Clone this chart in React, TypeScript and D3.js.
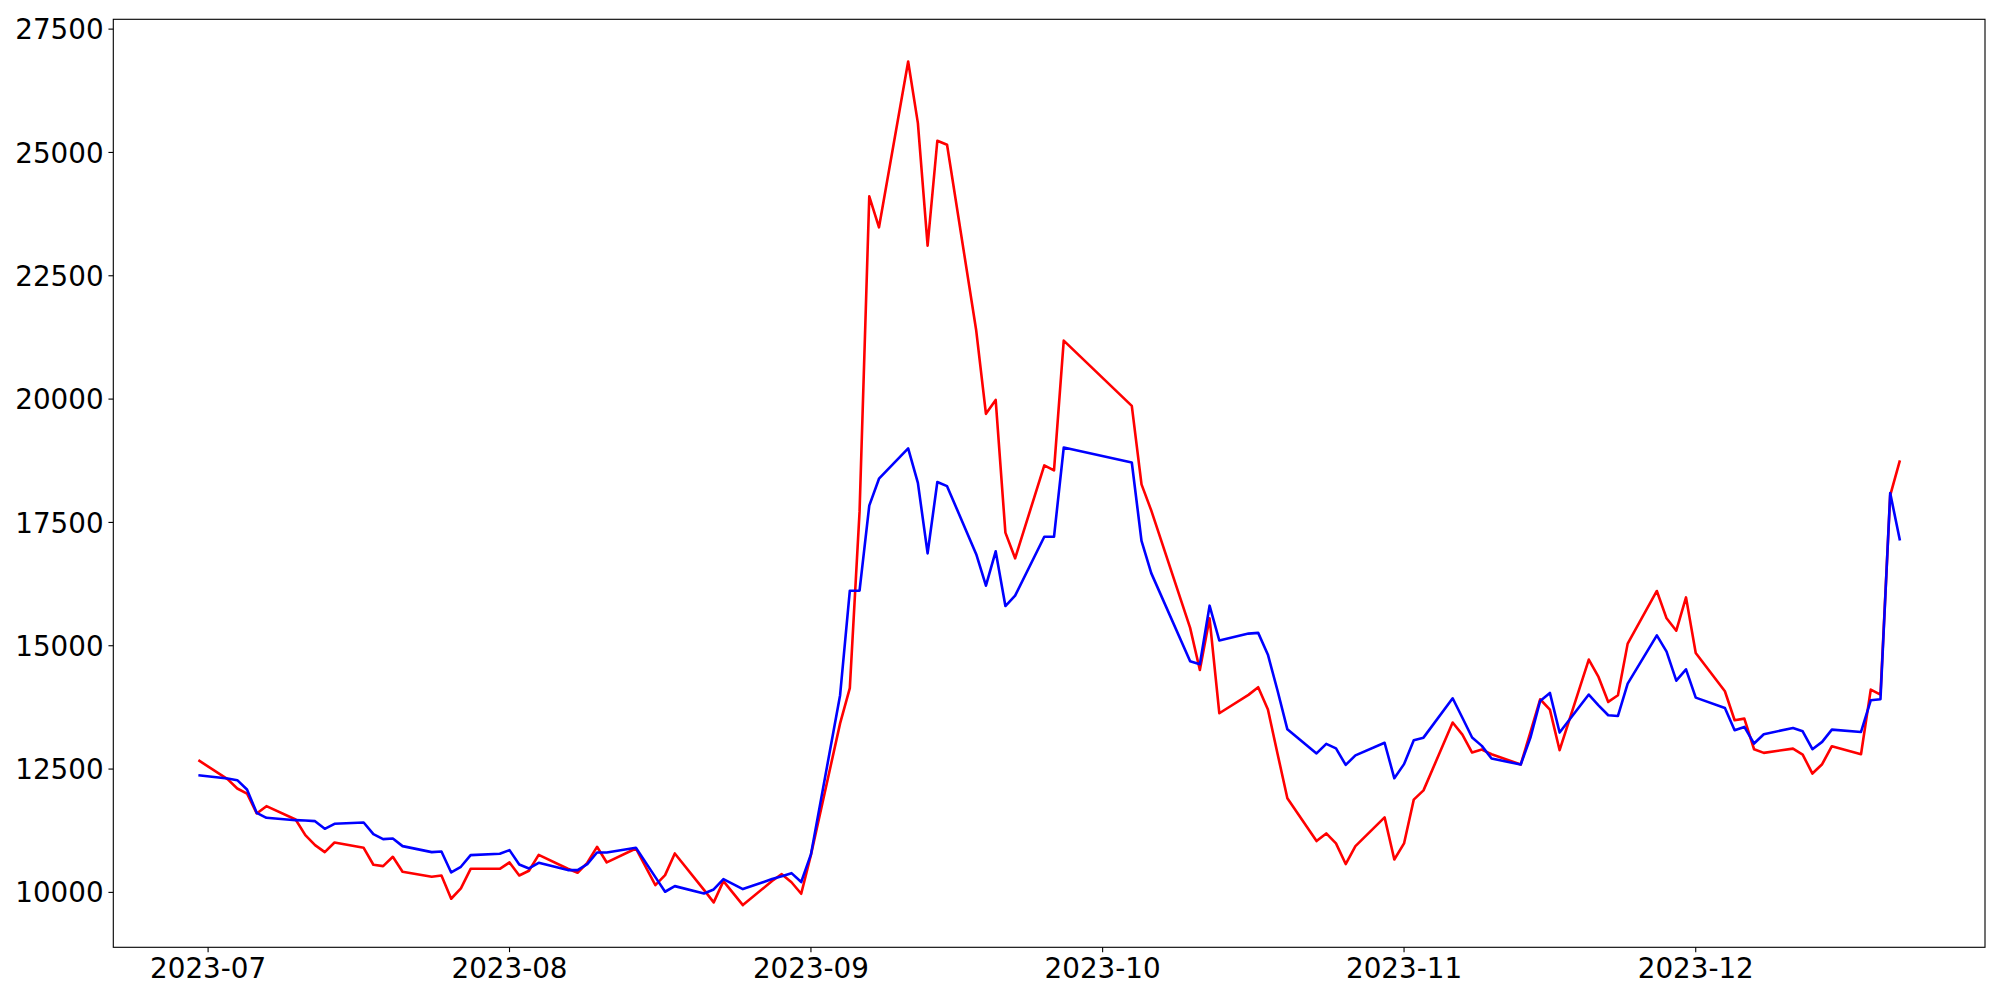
import React from "react";
import * as d3 from "d3";

// Trading days (Korean market calendar), 2023-06-30 .. 2023-12-22
const dateLabels: string[] = [
  "2023-06-30",
  "2023-07-03","2023-07-04","2023-07-05","2023-07-06","2023-07-07",
  "2023-07-10","2023-07-11","2023-07-12","2023-07-13","2023-07-14",
  "2023-07-17","2023-07-18","2023-07-19","2023-07-20","2023-07-21",
  "2023-07-24","2023-07-25","2023-07-26","2023-07-27","2023-07-28",
  "2023-07-31","2023-08-01","2023-08-02","2023-08-03","2023-08-04",
  "2023-08-07","2023-08-08","2023-08-09","2023-08-10","2023-08-11",
  "2023-08-14","2023-08-16","2023-08-17","2023-08-18",
  "2023-08-21","2023-08-22","2023-08-23","2023-08-24","2023-08-25",
  "2023-08-28","2023-08-29","2023-08-30","2023-08-31","2023-09-01",
  "2023-09-04","2023-09-05","2023-09-06","2023-09-07","2023-09-08",
  "2023-09-11","2023-09-12","2023-09-13","2023-09-14","2023-09-15",
  "2023-09-18","2023-09-19","2023-09-20","2023-09-21","2023-09-22",
  "2023-09-25","2023-09-26","2023-09-27",
  "2023-10-04","2023-10-05","2023-10-06",
  "2023-10-10","2023-10-11","2023-10-12","2023-10-13",
  "2023-10-16","2023-10-17","2023-10-18","2023-10-19","2023-10-20",
  "2023-10-23","2023-10-24","2023-10-25","2023-10-26","2023-10-27",
  "2023-10-30","2023-10-31","2023-11-01","2023-11-02","2023-11-03",
  "2023-11-06","2023-11-07","2023-11-08","2023-11-09","2023-11-10",
  "2023-11-13","2023-11-14","2023-11-15","2023-11-16","2023-11-17",
  "2023-11-20","2023-11-21","2023-11-22","2023-11-23","2023-11-24",
  "2023-11-27","2023-11-28","2023-11-29","2023-11-30","2023-12-01",
  "2023-12-04","2023-12-05","2023-12-06","2023-12-07","2023-12-08",
  "2023-12-11","2023-12-12","2023-12-13","2023-12-14","2023-12-15",
  "2023-12-18","2023-12-19","2023-12-20","2023-12-21","2023-12-22",
];

const redSeries: number[] = [
  12680,
  12295, 12106, 12004, 11599, 11748,
  11478, 11160, 10958, 10816, 11012,
  10904, 10560, 10533, 10722, 10418,
  10316, 10343, 9871, 10080, 10478,
  10478, 10607, 10343, 10438, 10762,
  10480, 10398, 10600, 10924, 10607,
  10890, 10148, 10350, 10789,
  10050, 9797, 10229, 9986, 9742,
  10230, 10370, 10205, 9972, 10760,
  13426, 14140, 17713, 24110, 23482,
  26844, 25595, 23110, 25237, 25156,
  21389, 19701, 19984, 17293, 16772,
  18655, 18554, 21186,
  19863, 18272, 17745,
  15362, 14509, 15556, 13632,
  14004, 14159, 13709, 12801, 11909,
  11040, 11195, 10993, 10575, 10939,
  11521, 10667, 10993, 11880, 12068,
  13443, 13199, 12835, 12895, 12801,
  12592, 13250, 13915, 13706, 12882,
  14719, 14367, 13861, 13996, 15043,
  16110, 15556, 15305, 15980, 14854,
  14077, 13489, 13523, 12902, 12828,
  12915, 12794, 12409, 12598, 12963,
  12800, 14110, 14009, 18047, 18756,
];

const blueSeries: number[] = [
  12376,
  12310, 12275, 12086, 11613, 11512,
  11464, 11458, 11444, 11289, 11390,
  11417, 11181, 11080, 11093, 10938,
  10816, 10830, 10404, 10519, 10755,
  10782, 10857, 10566, 10485, 10600,
  10452, 10452, 10573, 10809, 10809,
  10904, 10310, 10013, 10127,
  9979, 10060, 10269, 10168, 10067,
  10270, 10325, 10390, 10210, 10770,
  13997, 16116, 16116, 17840, 18386,
  19000, 18302, 16872, 18319, 18235,
  16856, 16217, 16915, 15805, 16015,
  17209, 17209, 19017,
  18715, 17124, 16472,
  14687, 14625, 15812, 15106,
  15246, 15261, 14819, 14082, 13306,
  12817, 13011, 12918, 12584, 12778,
  13034, 12313, 12600, 13085, 13137,
  13935, 13540, 13139, 12970, 12713,
  12592, 13139, 13881, 14044, 13240,
  14010, 13793, 13591, 13577, 14232,
  15211, 14880, 14292, 14522, 13948,
  13739, 13287, 13354, 13017, 13206,
  13334, 13266, 12902, 13051, 13300,
  13253, 13894, 13915, 18094, 17135,
];

const xTickLabels: string[] = ["2023-07", "2023-08", "2023-09", "2023-10", "2023-11", "2023-12"];
const yTickValues: number[] = [10000, 12500, 15000, 17500, 20000, 22500, 25000, 27500];

const W = 2000;
const H = 1000;
const PLOT = { left: 113.3, right: 1985, top: 19.3, bottom: 947.3 };
const FONT = "'DejaVu Sans', sans-serif";
const FS = 27.78;
const TICK = 4.86;
const PAD = 4.86;
const LW = 2.6;

const parse = d3.utcParse("%Y-%m-%d");
const parseMonth = d3.utcParse("%Y-%m");

export default function App() {
  const dates = dateLabels.map((s) => parse(s) as Date);
  const t0 = dates[0].getTime();
  const t1 = dates[dates.length - 1].getTime();
  const xm = (t1 - t0) * 0.05;
  const x = d3
    .scaleUtc()
    .domain([new Date(t0 - xm), new Date(t1 + xm)])
    .range([PLOT.left, PLOT.right]);

  const all = redSeries.concat(blueSeries);
  const vmin = d3.min(all) as number;
  const vmax = d3.max(all) as number;
  const ym = (vmax - vmin) * 0.05;
  const y = d3
    .scaleLinear()
    .domain([vmin - ym, vmax + ym])
    .range([PLOT.bottom, PLOT.top]);

  const line = d3
    .line<number>()
    .x((_, i) => x(dates[i]))
    .y((v) => y(v));

  const xTicks = xTickLabels.map((s) => ({ label: s, d: parseMonth(s) as Date }));

  return (
    <div style={{ position: "absolute", left: 0, top: 0 }}>
      <svg width={W} height={H} viewBox={`0 0 ${W} ${H}`} style={{ display: "block", background: "#fff" }}>
        <rect x={0} y={0} width={W} height={H} fill="#fff" />
        <defs>
          <clipPath id="plotclip">
            <rect x={PLOT.left} y={PLOT.top} width={PLOT.right - PLOT.left} height={PLOT.bottom - PLOT.top} />
          </clipPath>
        </defs>
        <g clipPath="url(#plotclip)">
          <path d={line(redSeries) || ""} fill="none" stroke="#ff0000" strokeWidth={LW} strokeLinejoin="round" strokeLinecap="butt" />
          <path d={line(blueSeries) || ""} fill="none" stroke="#0000ff" strokeWidth={LW} strokeLinejoin="round" strokeLinecap="butt" />
        </g>
        <rect
          x={PLOT.left}
          y={PLOT.top}
          width={PLOT.right - PLOT.left}
          height={PLOT.bottom - PLOT.top}
          fill="none"
          stroke="#000"
          strokeWidth={1.11}
        />
        {xTicks.map((t) => {
          const px = x(t.d);
          return (
            <g key={t.label}>
              <line x1={px} x2={px} y1={PLOT.bottom} y2={PLOT.bottom + TICK} stroke="#000" strokeWidth={1.11} />
              <text
                x={px}
                y={PLOT.bottom + TICK + PAD + 20.5}
                textAnchor="middle"
                fontFamily={FONT}
                fontSize={FS}
                fill="#000"
              >
                {t.label}
              </text>
            </g>
          );
        })}
        {yTickValues.map((v) => {
          const py = y(v);
          return (
            <g key={v}>
              <line x1={PLOT.left - TICK} x2={PLOT.left} y1={py} y2={py} stroke="#000" strokeWidth={1.11} />
              <text
                x={PLOT.left - TICK - PAD}
                y={py + 10.1}
                textAnchor="end"
                fontFamily={FONT}
                fontSize={FS}
                fill="#000"
              >
                {String(v)}
              </text>
            </g>
          );
        })}
      </svg>
    </div>
  );
}
